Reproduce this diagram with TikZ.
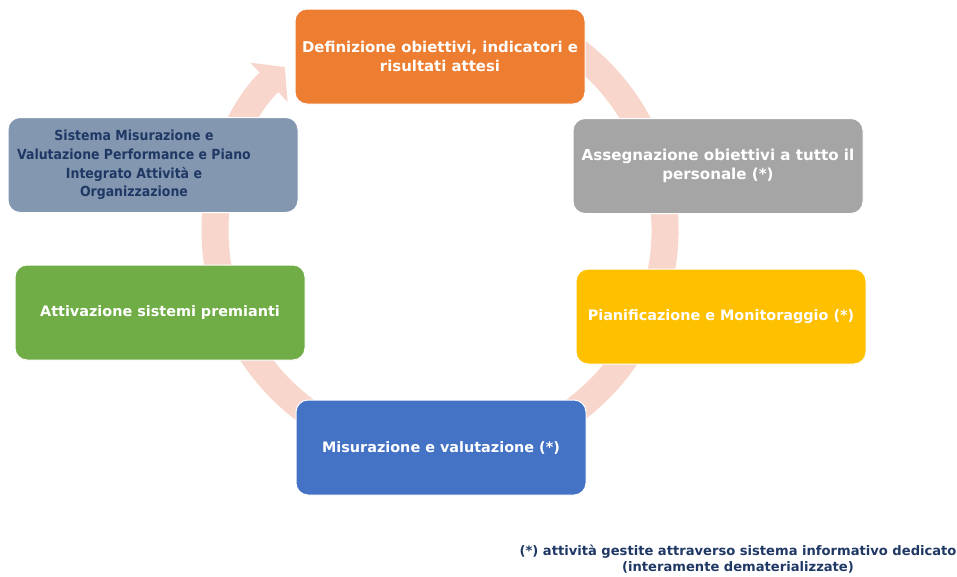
\documentclass[tikz,border=0pt]{standalone}
\usepackage{fontspec}
\setmainfont{DejaVu Sans}
\newfontfamily\condfont{DejaVu Sans Condensed}[BoldFont={DejaVu Sans Condensed Bold}]
\usetikzlibrary{arrows.meta}
\definecolor{cOrange}{HTML}{ED7D31}
\definecolor{cGray}{HTML}{A5A5A5}
\definecolor{cYellow}{HTML}{FFC000}
\definecolor{cBlue}{HTML}{4472C4}
\definecolor{cGreen}{HTML}{70AD47}
\definecolor{cSlate}{HTML}{8497B0}
\definecolor{cRing}{HTML}{F8D6CB}
\definecolor{cNavy}{HTML}{1F3864}
\newcommand{\fsz}[2]{\fontsize{#1}{#2}\selectfont\bfseries}
\tikzset{
  box/.style={rectangle, rounded corners=12pt, minimum width=290pt, minimum height=95pt,
    draw=white, line width=1pt, text=white, align=center, font=\fsz{14.4}{19.5}},
  ring/.style={draw=cRing, line width=27pt,
    -{Triangle[width=53pt,length=22pt]}},
  note/.style={text=cNavy, align=center, font=\fsz{13.1}{16}}
}
\begin{document}
\begin{tikzpicture}[x=1pt,y=1pt]
\useasboundingbox[fill=white] (0,0) rectangle (957,-576);
\coordinate (c) at (440,-230);
\draw[ring] (c) ++(62:225) arc[start angle=62, end angle=-226.4, radius=225];
\node[box, fill=cOrange, font=\fsz{14.9}{19.5}] (def) at (440,-56.5) {Definizione obiettivi, indicatori e\\risultati attesi};
\node[box, fill=cGray, font=\fsz{15.1}{19.5}] (ass) at (718,-166) {Assegnazione obiettivi a tutto il\\personale (*)};
\node[box, fill=cYellow] (pia) at (721,-316.5) {Pianificazione e Monitoraggio (*)};
\node[box, fill=cBlue] (mis) at (441,-447.5) {Misurazione e valutazione (*)};
\node[box, fill=cGreen] (att) at (160,-312.5) {Attivazione sistemi premianti};
\node[box, fill=cSlate] (sis) at (153,-165) {};
\node[text=cNavy, align=center, font=\condfont\fsz{13.9}{18.7}] (sisT) at (134,-165)
  {Sistema Misurazione e\\Valutazione Performance e Piano\\Integrato Attività e\\Organizzazione};
\node[note] (nota) at (738,-559) {(*) attività gestite attraverso sistema informativo dedicato\\(interamente dematerializzate)};
\end{tikzpicture}
\end{document}
